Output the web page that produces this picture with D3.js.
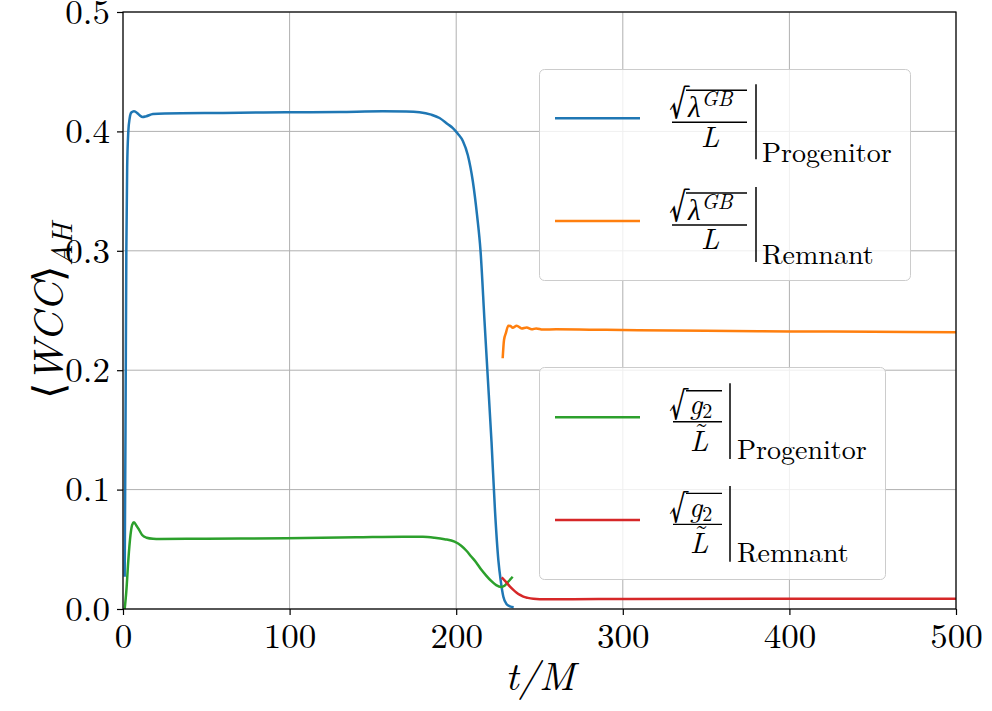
<!DOCTYPE html>
<html><head><meta charset="utf-8">
<script src="https://cdn.jsdelivr.net/npm/d3@7"></script>
<style>
body{margin:0;background:#fff;}
svg{display:block;}
</style>
</head><body>
<svg id="chart" width="992" height="711"></svg>
<script>
// ---------- data ----------
const xTicks = [0, 100, 200, 300, 400, 500];
const yTicks = [0.0, 0.1, 0.2, 0.3, 0.4, 0.5];

const progLambdaT = [1.0, 1.5, 2.0, 2.5, 3.2, 4.0, 5.0, 6.6, 8.5, 10, 11.8, 14, 18, 25, 60, 98, 130, 156, 170, 178, 185, 190, 195, 198, 201, 204, 207, 210, 212.5, 214.6, 217, 218.7, 221.2, 223.3, 225.3, 226.7, 228.3, 230.3, 232.3, 234.5];
const progLambdaV = [0.027, 0.15, 0.30, 0.37, 0.400, 0.411, 0.4158, 0.4168, 0.4155, 0.4135, 0.412, 0.4127, 0.4145, 0.415, 0.4155, 0.416, 0.4163, 0.4168, 0.4166, 0.416, 0.414, 0.4112, 0.406, 0.4028, 0.398, 0.392, 0.380, 0.358, 0.330, 0.300, 0.241, 0.200, 0.140, 0.082, 0.041, 0.024, 0.0103, 0.004, 0.0022, 0.0015];

const remLambdaT = [227.9, 228.7, 229.8, 231.3, 232.6, 233.9, 236.3, 239.3, 242.3, 245.3, 248, 252, 260, 290, 350, 400, 450, 500];
const remLambdaV = [0.210, 0.2253, 0.231, 0.2373, 0.2370, 0.2356, 0.2373, 0.2350, 0.2358, 0.2342, 0.2350, 0.2340, 0.2342, 0.2338, 0.2330, 0.2325, 0.2322, 0.2318];

const progG2T = [1.0, 2.0, 3.2, 4.5, 5.5, 6.6, 8, 9.6, 11.5, 14.2, 18, 22, 50, 98, 140, 168, 180, 187, 193, 199, 203, 206, 209, 212, 215, 218, 221, 224, 227, 229, 231, 233.9];
const progG2V = [0.0, 0.015, 0.041, 0.062, 0.0705, 0.0726, 0.070, 0.0665, 0.062, 0.0597, 0.0588, 0.0586, 0.0589, 0.0592, 0.0600, 0.0606, 0.0605, 0.0597, 0.0585, 0.0564, 0.053, 0.049, 0.044, 0.039, 0.033, 0.028, 0.0235, 0.020, 0.0185, 0.0195, 0.0225, 0.027];

const remG2T = [227.3, 230, 232.3, 234.3, 236.3, 238.3, 240.3, 243, 246.3, 254, 270, 304, 400, 500];
const remG2V = [0.0265, 0.0225, 0.0187, 0.016, 0.0137, 0.0118, 0.0103, 0.0093, 0.0086, 0.0081, 0.0082, 0.0084, 0.0085, 0.0085];

const seriesColors = ["#1f77b4", "#ff7f0e", "#2ca02c", "#d62728"];
const legendSubscripts = ["Progenitor", "Remnant", "Progenitor", "Remnant"];

// ---------- layout ----------
const FONT = "'Latin Modern Roman'";
const W = 992, H = 711;
const m = {l: 123, t: 12, r: 36, b: 102};
const svg = d3.select("#chart");
const x = d3.scaleLinear().domain([0, 500]).range([m.l, W - m.r]);
const y = d3.scaleLinear().domain([0, 0.5]).range([H - m.b, m.t]);

// grid
const grid = svg.append("g").attr("stroke", "#b0b0b0").attr("stroke-width", 1);
grid.selectAll(".gx").data(xTicks).join("line")
  .attr("x1", d => x(d)).attr("x2", d => x(d)).attr("y1", y(0)).attr("y2", y(0.5));
grid.selectAll(".gy").data(yTicks).join("line")
  .attr("x1", x(0)).attr("x2", x(500)).attr("y1", d => y(d)).attr("y2", d => y(d));

// curves
const series = [
  [progLambdaT, progLambdaV],
  [remLambdaT, remLambdaV],
  [progG2T, progG2V],
  [remG2T, remG2V]
];
const line = d3.line().x(d => x(d[0])).y(d => y(d[1])).curve(d3.curveMonotoneX);
svg.append("defs").append("clipPath").attr("id", "clip").append("rect")
  .attr("x", x(0)).attr("y", y(0.5) - 2).attr("width", x(500) - x(0)).attr("height", y(0) - y(0.5) + 4);
const curves = svg.append("g").attr("clip-path", "url(#clip)");
series.forEach((s, i) => {
  const pts = s[0].map((t, k) => [t, s[1][k]]);
  curves.append("path").datum(pts).attr("d", line)
    .attr("fill", "none").attr("stroke", seriesColors[i]).attr("stroke-width", 2.5)
    .attr("stroke-linejoin", "round").attr("stroke-linecap", "butt");
});

// axes
const xAxis = svg.append("g").attr("transform", `translate(0,${y(0)})`)
  .call(d3.axisBottom(x).tickValues(xTicks).tickSize(6).tickPadding(8).tickFormat(d3.format("d")));
const yAxis = svg.append("g").attr("transform", `translate(${x(0)},0)`)
  .call(d3.axisLeft(y).tickValues(yTicks).tickSize(6).tickPadding(7).tickFormat(d3.format(".1f")));
[xAxis, yAxis].forEach(a => {
  a.attr("font-family", null);
  a.select(".domain").remove();
  a.selectAll(".tick line").attr("stroke", "#000").attr("stroke-width", 1.2);
  a.selectAll(".tick text").style("font-family", FONT).style("font-size", "35px").attr("fill", "#000");
});

// frame
svg.append("rect").attr("x", x(0)).attr("y", y(0.5)).attr("width", x(500) - x(0)).attr("height", y(0) - y(0.5))
  .attr("fill", "none").attr("stroke", "#000").attr("stroke-width", 1.2);

function txt(xx, yy, s, size, italic, anchor) {
  return svg.append("text").attr("x", xx).attr("y", yy).attr("text-anchor", anchor || "start")
    .style("font-family", FONT)
    .style("font-size", size + "px").style("font-style", italic ? "italic" : "normal").text(s);
}

// axis labels
txt(540, 690, "t/M", 40, true, "middle");

const yl = svg.append("text").attr("transform", "translate(63,311) rotate(-90)").attr("text-anchor", "middle")
  .style("font-family", FONT).style("font-size", "42px");
yl.append("tspan").text("⟨");
yl.append("tspan").style("font-style", "italic").text("WCC");
yl.append("tspan").text("⟩");
yl.append("tspan").style("font-style", "italic").style("font-size", "29px").attr("dy", 9).text("AH");

// legends
function legendBox(x0, y0, w, h) {
  svg.append("rect").attr("x", x0).attr("y", y0).attr("width", w).attr("height", h)
    .attr("rx", 5).attr("ry", 5).attr("fill", "#fff").attr("fill-opacity", 0.8)
    .attr("stroke", "#cccccc").attr("stroke-width", 1);
}
legendBox(539.5, 69.5, 371, 211);
legendBox(539.5, 367.5, 346, 212);

function sample(ly, color) {
  svg.append("line").attr("x1", 555).attr("x2", 640).attr("y1", ly).attr("y2", ly)
    .attr("stroke", color).attr("stroke-width", 2.5);
}
function hline(x1, x2, yy, w) {
  svg.append("line").attr("x1", x1).attr("x2", x2).attr("y1", yy).attr("y2", yy)
    .attr("stroke", "#000").attr("stroke-width", w);
}
function vline(xx, y1, y2) {
  svg.append("line").attr("x1", xx).attr("x2", xx).attr("y1", y1).attr("y2", y2)
    .attr("stroke", "#000").attr("stroke-width", 1.5);
}

function lambdaEntry(ly, color, sub) {
  sample(ly, color);
  txt(669, ly - 3, "√", 40, false);
  hline(686, 747, ly - 28, 1.4);
  const t = txt(688, ly - 1, "", 29, true);
  t.append("tspan").text("λ");
  t.append("tspan").style("font-size", "21px").attr("dx", 1).attr("dy", -11).text("GB");
  hline(672, 747, ly + 4, 1.4);
  txt(710, ly + 28.4, "L", 29, true, "middle");
  vline(756, ly - 34, ly + 41);
  txt(762, ly + 43.4, sub, 28, false);
}
function g2Entry(ly, color, sub) {
  sample(ly, color);
  txt(669, ly - 1.5, "√", 38, false);
  hline(686, 722, ly - 26.6, 1.4);
  const t = txt(689, ly - 3, "", 29, true);
  t.append("tspan").text("g");
  t.append("tspan").style("font-size", "20px").style("font-style", "normal").attr("dy", 4).text("2");
  hline(673, 722, ly + 4.4, 1.4);
  const l = txt(690, ly + 33.4, "", 29, true);
  l.append("tspan").text("L");
  l.append("tspan").style("font-style", "normal").attr("dx", -14).attr("dy", -8).text("˜");
  vline(730, ly - 34, ly + 41.7);
  txt(737, ly + 42, sub, 28, false);
}
lambdaEntry(118.3, seriesColors[0], legendSubscripts[0]);
lambdaEntry(221, seriesColors[1], legendSubscripts[1]);
g2Entry(417.3, seriesColors[2], legendSubscripts[2]);
g2Entry(520, seriesColors[3], legendSubscripts[3]);
</script>
</body></html>
